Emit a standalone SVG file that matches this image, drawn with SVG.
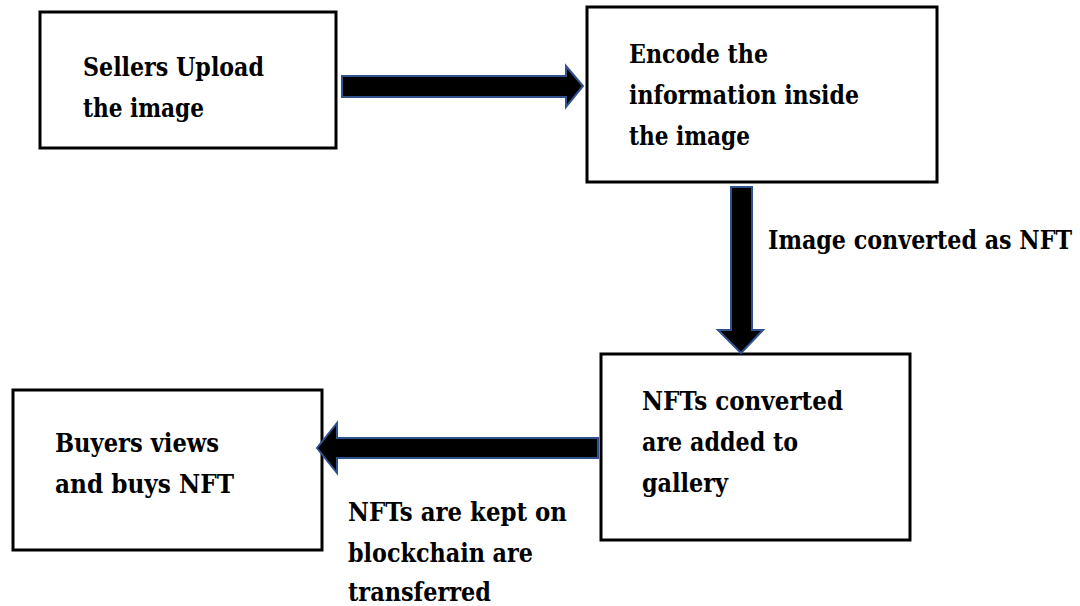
<svg xmlns="http://www.w3.org/2000/svg" width="1080" height="606" viewBox="0 0 1080 606">
<style>
.box{fill:#fff;stroke:#000;stroke-width:3}
.t{font-family:'DejaVu Serif Condensed','DejaVu Serif',serif;font-weight:700;font-size:26.5px;fill:#000}
.arr{fill:#000;stroke:#2F528F;stroke-width:2;stroke-linejoin:miter}
</style>
<rect width="1080" height="606" fill="#fff"/>
<g id="n1">
<rect class="box" x="40" y="12" width="296" height="136"/>
<text class="t" x="83" y="76" textLength="181" lengthAdjust="spacingAndGlyphs">Sellers Upload</text>
<text class="t" x="83" y="117" textLength="121" lengthAdjust="spacingAndGlyphs">the image</text>
</g>
<g id="n2">
<rect class="box" x="587" y="7" width="350" height="175"/>
<text class="t" x="629" y="63" textLength="139" lengthAdjust="spacingAndGlyphs">Encode the</text>
<text class="t" x="629" y="104" textLength="230" lengthAdjust="spacingAndGlyphs">information inside</text>
<text class="t" x="629" y="145" textLength="121" lengthAdjust="spacingAndGlyphs">the image</text>
</g>
<g id="n3">
<rect class="box" x="601" y="354" width="309" height="186"/>
<text class="t" x="642" y="410" textLength="201" lengthAdjust="spacingAndGlyphs">NFTs converted</text>
<text class="t" x="642" y="451" textLength="156" lengthAdjust="spacingAndGlyphs">are added to</text>
<text class="t" x="642" y="492" textLength="86" lengthAdjust="spacingAndGlyphs">gallery</text>
</g>
<g id="n4">
<rect class="box" x="13" y="390" width="309" height="160"/>
<text class="t" x="55" y="452" textLength="164" lengthAdjust="spacingAndGlyphs">Buyers views</text>
<text class="t" x="55" y="493" textLength="179" lengthAdjust="spacingAndGlyphs">and buys NFT</text>
</g>
<g id="connectors">
<polygon class="arr" points="342,76 566,76 566,66 583,86 566,107 566,97 342,97"/>
<polygon class="arr" points="731,187 752,187 752,330 763,330 741,353 718,330 731,330"/>
<polygon class="arr" points="598,438 337,438 337,423 317,448 337,473 337,458 598,458"/>
<text class="t" x="768" y="249" textLength="304" lengthAdjust="spacingAndGlyphs">Image converted as NFT</text>
<text class="t" x="348" y="521" textLength="219" lengthAdjust="spacingAndGlyphs">NFTs are kept on</text>
<text class="t" x="348" y="562" textLength="185" lengthAdjust="spacingAndGlyphs">blockchain are</text>
<text class="t" x="348" y="601" textLength="143" lengthAdjust="spacingAndGlyphs">transferred</text>
</g>
</svg>
